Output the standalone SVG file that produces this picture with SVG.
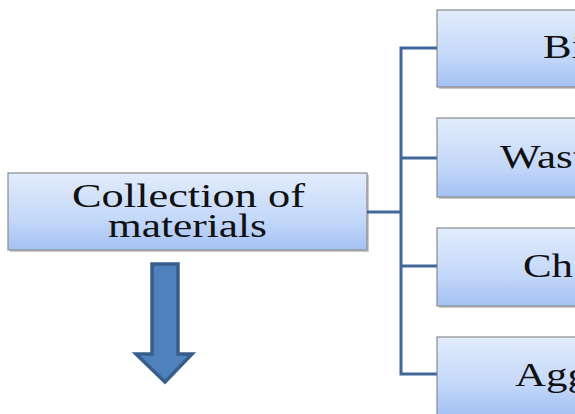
<svg xmlns="http://www.w3.org/2000/svg" width="575" height="414" viewBox="0 0 575 414">
<defs>
<linearGradient id="g" x1="0" y1="0" x2="0" y2="1">
<stop offset="0" stop-color="#e2ecfc"/>
<stop offset="0.6" stop-color="#c4d8f9"/>
<stop offset="1" stop-color="#a3c1f3"/>
</linearGradient>
<style>
.box{fill:url(#g);stroke:#8a8a8a;stroke-width:1.2}
.sh{fill:#c8c8c8}
.t{font-family:"Liberation Serif","Times New Roman",serif;font-size:33px;fill:#111}
.c{fill:none;stroke:#41679a;stroke-width:3}
</style>
</defs>
<rect width="575" height="414" fill="#fff"/>
<g id="collection">
<rect class="sh" x="10" y="175" width="359" height="77"/>
<rect class="box" x="8" y="173" width="359" height="77"/>
<text class="t"><tspan x="72" y="207" textLength="233" lengthAdjust="spacingAndGlyphs">Collection of</tspan><tspan x="108" y="237" textLength="159" lengthAdjust="spacingAndGlyphs">materials</tspan></text>
</g>
<g id="n1">
<rect class="sh" x="439" y="12" width="150" height="77"/>
<rect class="box" x="437" y="10" width="150" height="77"/>
<text class="t" x="543" y="58" transform="translate(543 0) scale(1.3 1) translate(-543 0)">Bi</text>
</g>
<g id="n2">
<rect class="sh" x="439" y="120" width="150" height="79"/>
<rect class="box" x="437" y="118" width="150" height="79"/>
<text class="t" x="500" y="168" transform="translate(500 0) scale(1.3 1) translate(-500 0)">Wast</text>
</g>
<g id="n3">
<rect class="sh" x="439" y="230" width="150" height="78"/>
<rect class="box" x="437" y="228" width="150" height="78"/>
<text class="t" x="523" y="277" transform="translate(523 0) scale(1.3 1) translate(-523 0)">Ch</text>
</g>
<g id="n4">
<rect class="sh" x="439" y="339" width="150" height="78"/>
<rect class="box" x="437" y="337" width="150" height="78"/>
<text class="t" x="515" y="386" transform="translate(515 0) scale(1.3 1) translate(-515 0)">Agg</text>
</g>
<g id="connectors">
<path class="c" d="M367 212 H401"/>
<path class="c" d="M437 48 H401 V374 H437"/>
<path class="c" d="M401 158 H437"/>
<path class="c" d="M401 266 H437"/>
</g>
<g id="arrow">
<path d="M152 264 H178 V354 H192 L165 382 L136 354 H152 Z" fill="#4f81bd" stroke="#385d8a" stroke-width="3.5" stroke-linejoin="miter"/>
</g>
</svg>
